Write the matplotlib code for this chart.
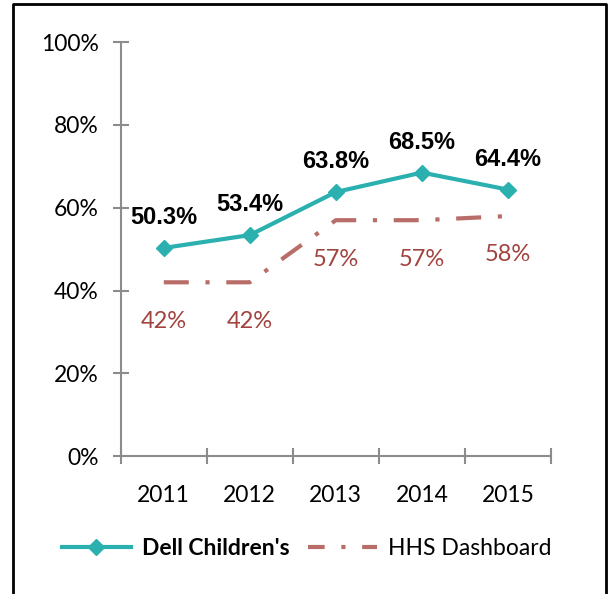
import matplotlib.pyplot as plt
import matplotlib.lines as mlines
import numpy as np

years = ['2011', '2012', '2013', '2014', '2015']
dell = [50.3, 53.4, 63.8, 68.5, 64.4]
hhs = [42, 42, 57, 57, 58]

teal = '#2BB0B0'
rose = '#B86D69'
rose_text = '#A2433F'
grey = '#8C8C8C'

plt.rcParams['font.family'] = ['Lato', 'DejaVu Sans']

fig = plt.figure(figsize=(6.1, 5.94), dpi=100)
ax = fig.add_axes([0.198, 0.232, 0.705, 0.697])

x = np.arange(len(years))
ax.plot(x, dell, color=teal, lw=3, marker='D', ms=8, zorder=3)
ax.plot(x, hhs, color=rose, lw=3, dashes=(6, 4, 1, 4), zorder=2)

for xi, v in zip(x, dell):
    ax.annotate(f'{v:.1f}%', (xi, v), xytext=(0, 22), textcoords='offset points',
                ha='center', va='center', fontsize=17, fontweight='bold',
                family='Liberation Sans')
for xi, v in zip(x, hhs):
    ax.annotate(f'{v}%', (xi, v), xytext=(0, -28), textcoords='offset points',
                ha='center', va='center', fontsize=17, color=rose_text)

ax.set_xlim(-0.5, len(years) - 0.5)
ax.set_ylim(0, 100)
ax.set_yticks(range(0, 101, 20))
ax.set_yticklabels([f'{t}%' for t in range(0, 101, 20)])
ax.set_xticks(x)
ax.set_xticklabels(years)
ax.set_xticks(np.arange(-0.5, len(years)), minor=True)

for s in ['top', 'right']:
    ax.spines[s].set_visible(False)
for s in ['left', 'bottom']:
    ax.spines[s].set_color(grey)
    ax.spines[s].set_linewidth(1.5)

ax.tick_params(axis='y', direction='inout', length=12, width=1.5, color=grey,
               labelsize=16.5, pad=10)
ax.tick_params(axis='x', which='major', length=0, labelsize=16.5, pad=21)
ax.tick_params(axis='x', which='minor', direction='inout', length=11, width=1.5,
               color=grey)

h1 = mlines.Line2D([], [], color=teal, lw=3, marker='D', ms=8)
h2 = mlines.Line2D([], [], color=rose, lw=3, dashes=(4, 4, 1, 4))
leg = fig.legend([h1, h2], ["Dell Children's", 'HHS Dashboard'], loc='center',
                 bbox_to_anchor=(0.503, 0.077), ncol=2, frameon=False,
                 fontsize=16.5, handlelength=3.0, columnspacing=0.8,
                 handletextpad=0.5)
leg.get_texts()[0].set_fontweight('bold')

# border of the chart area (bottom edge falls outside the image)
fig.add_artist(mlines.Line2D([0.022, 0.022, 0.993, 0.993], [-0.1, 0.993, 0.993, -0.1],
                             transform=fig.transFigure, color='black', lw=2))

fig.savefig('out.png', dpi=100)
